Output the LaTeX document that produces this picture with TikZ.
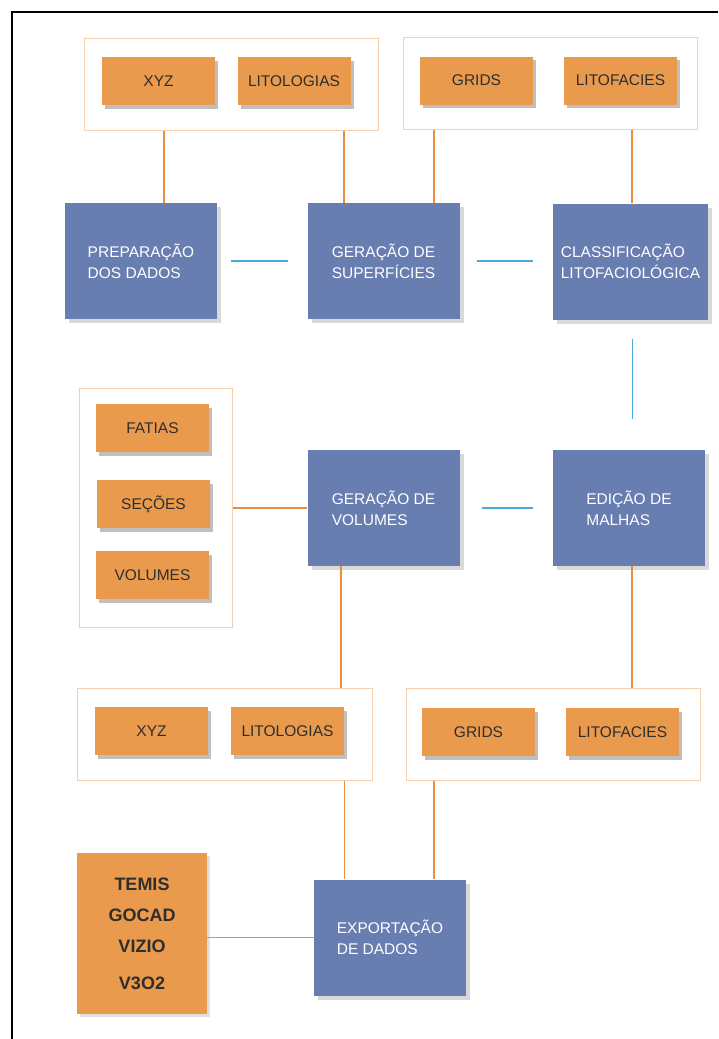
\documentclass[tikz,border=0pt]{standalone}
\usepackage{fontspec}
\setmainfont{Liberation Sans}
\usetikzlibrary{positioning}
\usetikzlibrary{shadows}

\definecolor{laranja}{HTML}{E99A4D}
\definecolor{azul}{HTML}{687DB0}
\definecolor{borda}{HTML}{F6CFAE}
\definecolor{fio}{HTML}{EC8D40}
\definecolor{fioazul}{HTML}{4BA9DC}
\definecolor{escuro}{HTML}{2E2E2E}

\begin{document}
\begin{tikzpicture}[%
  x=1pt, y=-1pt,
  grupo/.style={draw=borda, line width=1pt, fill=white, minimum width=294, minimum height=92},
  item/.style={fill=laranja, text=escuro, minimum width=113, minimum height=48, inner sep=0pt,
    font=\fontsize{15.5}{18}\selectfont,
    drop shadow={shadow xshift=3pt, shadow yshift=-3.5pt, fill=black, opacity=0.25}},
  etapa/.style={fill=azul, text=white, minimum width=152, minimum height=116, inner sep=0pt,
    align=left, font=\fontsize{15.5}{21}\selectfont,
    drop shadow={shadow xshift=4pt, shadow yshift=-4pt, fill=black, opacity=0.15}},
  ligacao/.style={draw=fio, line width=1.2pt},
  ligazul/.style={draw=fioazul, line width=1.2pt},
]

  \useasboundingbox (0,0) rectangle (718,1039);
  \draw[line width=2pt] (12,1039) -- (12,12) -- (718,12);

  \node[grupo] (topoA) at (231,84) {};
  \node[grupo] (topoB) at (550,83) {};
  \node[grupo, minimum width=153, minimum height=239] (ladoA) at (155.5,507.5) {};
  \node[grupo, minimum width=295] (baixoA) at (224.5,734) {};
  \node[grupo] (baixoB) at (553,734) {};

  \node[item] (xyzA) at (158.5,81) {XYZ};
  \node[item] (litoA) at (294,81) {LITOLOGIAS};
  \node[item] (gridsA) at (476.5,80.5) {GRIDS};
  \node[item] (faciesA) at (620.5,80.5) {LITOFACIES};

  \node[item] (fatias) at (152.5,428) {FATIAS};
  \node[item] (secoes) at (153.5,504) {SEÇÕES};
  \node[item] (volumes) at (152.5,575) {VOLUMES};

  \node[item] (xyzB) at (151.5,731) {XYZ};
  \node[item] (litoB) at (287.5,731) {LITOLOGIAS};
  \node[item] (gridsB) at (478.5,732) {GRIDS};
  \node[item] (faciesB) at (622.5,732) {LITOFACIES};

  \node[etapa] (prep) at (141,261) {PREPARAÇÃO\\DOS DADOS};
  \node[etapa] (gsup) at (383.5,261) {GERAÇÃO DE\\SUPERFÍCIES};
  \node[etapa, minimum width=155] (classif) at (630.5,261.5) {CLASSIFICAÇÃO\\LITOFACIOLÓGICA};
  \node[etapa] (gvol) at (383.5,508) {GERAÇÃO DE\\VOLUMES};
  \node[etapa] (edicao) at (629,508) {EDIÇÃO DE\\MALHAS};
  \node[etapa] (export) at (390,937.5) {EXPORTAÇÃO\\DE DADOS};

  \node[fill=laranja, text=escuro, minimum width=130, minimum height=161, align=center,
    font=\bfseries\fontsize{18}{33}\selectfont,
    drop shadow={shadow xshift=3pt, shadow yshift=-3pt, fill=black, opacity=0.12}]
    (ferramentas) at (142,933.5) {TEMIS\\[-2pt]GOCAD\\[-2pt]VIZIO\\[4pt]V3O2};

  % ligacoes
  \draw[ligacao] ([xshift=23]prep.north) -- ([xshift=23]prep.north |- topoA.south);
  \draw[ligacao] ([xshift=-39.5]gsup.north) -- ([xshift=-39.5]gsup.north |- topoA.south);
  \draw[ligacao] ([xshift=50.5]gsup.north) -- ([xshift=50.5]gsup.north |- topoB.south);
  \draw[ligacao] ([xshift=1.5]classif.north) -- ([xshift=1.5]classif.north |- topoB.south);

  \draw[ligazul, shorten <=14, shorten >=19] (prep.east) -- (gsup.west);
  \draw[ligazul, shorten <=17, shorten >=20] (gsup.east) -- (gsup.east -| classif.west);
  \draw[ligazul, shorten <=19, shorten >=31] ([xshift=2]classif.south) -- ([xshift=2]classif.south |- edicao.north);
  \draw[ligazul, shorten <=22, shorten >=20] (gvol.east) -- (edicao.west);

  \draw[ligacao] (gvol.west -| ladoA.east) -- (gvol.west);
  \draw[ligacao] ([xshift=-42.5]gvol.south) -- ([xshift=-42.5]gvol.south |- baixoA.north);
  \draw[ligacao] ([xshift=3]edicao.south) -- ([xshift=3]edicao.south |- baixoB.north);
  \draw[ligacao] ([xshift=-45.5]export.north) -- ([xshift=-45.5]export.north |- baixoA.south);
  \draw[ligacao] ([xshift=44]export.north) -- ([xshift=44]export.north |- baixoB.south);
  \draw[ligacao] (export.west -| ferramentas.east) -- (export.west);

\end{tikzpicture}
\end{document}
